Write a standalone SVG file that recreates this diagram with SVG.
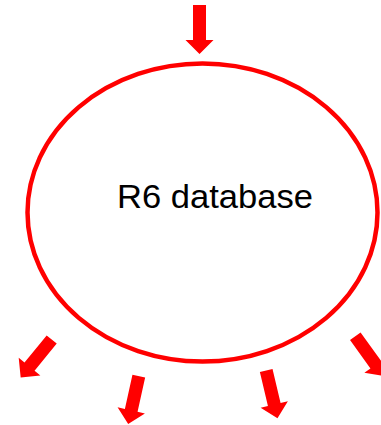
<svg xmlns="http://www.w3.org/2000/svg" xmlns:xlink="http://www.w3.org/1999/xlink" width="381" height="425" viewBox="0 0 381 425">
  <style>
    .node-shape { fill: #ffffff; stroke: #ff0000; stroke-width: 4.5; }
    .label { font-family: "Liberation Sans", Arial, sans-serif; font-size: 33px; fill: #000000; text-anchor: middle; }
    .arrow { fill: #ff0000; stroke: none; }
  </style>
  <defs>
    <path id="arr" d="M-6.5,0 H6.5 V35 H14 L0,49 L-14,35 H-6.5 Z"/>
  </defs>
  <rect width="381" height="425" fill="#ffffff"/>
  <g id="node-r6-database">
    <ellipse class="node-shape" cx="202.5" cy="212.5" rx="175" ry="149"/>
    <text class="label" x="215" y="208" textLength="196" lengthAdjust="spacingAndGlyphs">R6 database</text>
  </g>
  <g id="connectors">
    <use class="arrow" xlink:href="#arr" href="#arr" transform="translate(199.5,5)"/>
    <use class="arrow" xlink:href="#arr" href="#arr" transform="translate(51.7,339.5) rotate(39.3)"/>
    <use class="arrow" xlink:href="#arr" href="#arr" transform="translate(138.8,376.2) rotate(12.5)"/>
    <use class="arrow" xlink:href="#arr" href="#arr" transform="translate(266.2,370.5) rotate(-13.3)"/>
    <use class="arrow" xlink:href="#arr" href="#arr" transform="translate(355.3,336.2) rotate(-35.7)"/>
  </g>
</svg>
